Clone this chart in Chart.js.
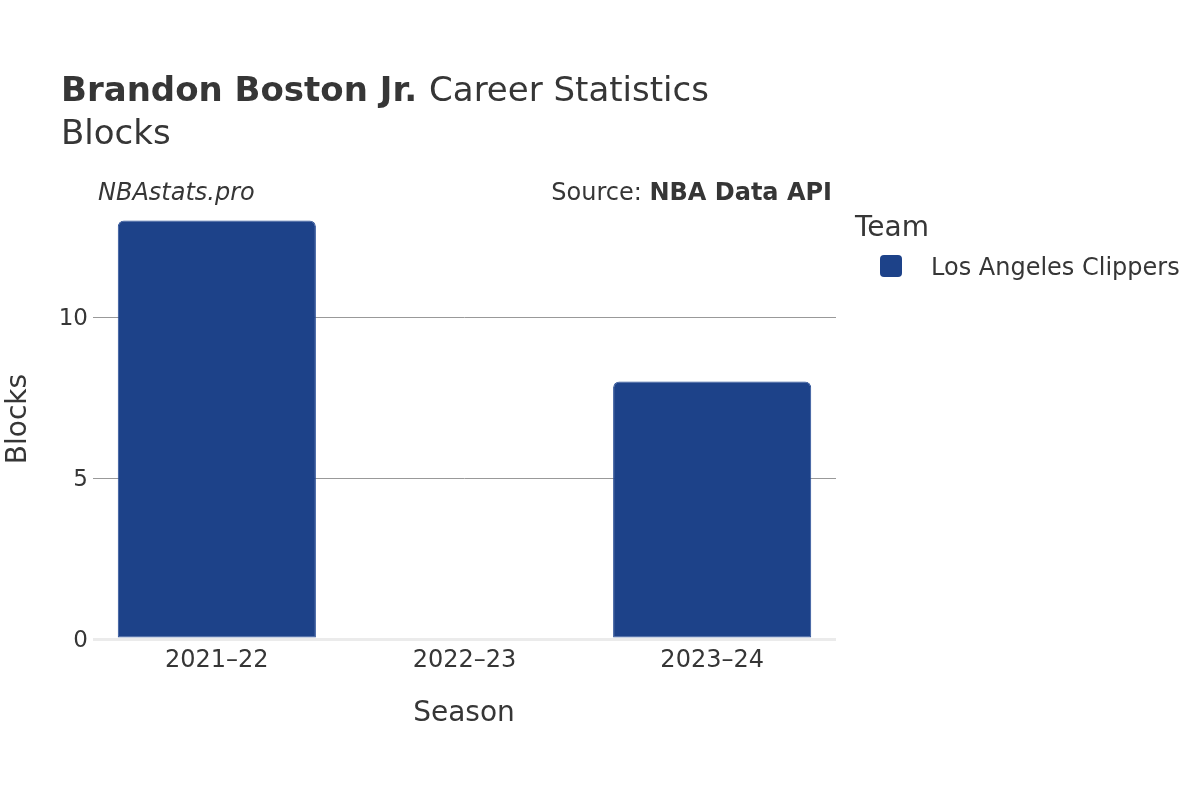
<!DOCTYPE html>
<html>
<head>
<meta charset="utf-8">
<script src="https://cdn.jsdelivr.net/npm/chart.js@4.4.0/dist/chart.umd.min.js"></script>
<style>
html,body{margin:0;padding:0;background:#fff;}
#wrap{width:1200px;height:800px;position:relative;}
</style>
</head>
<body>
<div id="wrap"><canvas id="c" width="1200" height="800"></canvas></div>
<script>
const seasons = ['2021\u201322', '2022\u201323', '2023\u201324'];
const blocks = [13, 0, 8];
const teamNames = ['Los Angeles Clippers'];
const teamColors = ['#1d4289'];
const yTicks = [0, 5, 10];

const FONT = "'DejaVu Sans', sans-serif";
const TXT = '#363636';

const textPlugin = {
  id: 'texts',
  afterDraw(chart) {
    const ctx = chart.ctx;
    ctx.save();
    ctx.fillStyle = TXT;
    ctx.textBaseline = 'alphabetic';
    ctx.textAlign = 'left';
    // Title
    ctx.font = 'bold 34px ' + FONT;
    const t1 = 'Brandon Boston Jr.';
    ctx.fillText(t1, 61, 101);
    const w1 = ctx.measureText(t1 + ' ').width;
    ctx.font = '34px ' + FONT;
    ctx.fillText('Career Statistics', 61 + w1, 101);
    ctx.fillText('Blocks', 61, 144);
    // Subtitles
    ctx.textBaseline = 'middle';
    ctx.font = 'italic 24px ' + FONT;
    ctx.fillText('NBAstats.pro', 98, 194);
    ctx.textAlign = 'right';
    ctx.font = 'bold 24px ' + FONT;
    const src = 'NBA Data API';
    ctx.fillText(src, 832, 194);
    const ws = ctx.measureText(src).width;
    ctx.font = '24px ' + FONT;
    ctx.fillText('Source: ', 832 - ws, 194);
    // Legend
    ctx.textAlign = 'left';
    ctx.font = '28px ' + FONT;
    ctx.fillText('Team', 855, 229);
    teamNames.forEach((n, i) => {
      const y = 266 + i * 34;
      ctx.fillStyle = teamColors[i];
      ctx.beginPath();
      ctx.roundRect(880, y - 11, 22, 22, 4);
      ctx.fill();
      ctx.fillStyle = TXT;
      ctx.font = '24px ' + FONT;
      ctx.fillText(n, 931, y + 3);
    });
    // Axis titles
    ctx.textAlign = 'center';
    ctx.font = '28px ' + FONT;
    ctx.fillText('Season', 464, 714);
    ctx.translate(19, 419);
    ctx.rotate(-Math.PI / 2);
    ctx.fillText('Blocks', 0, 0);
    ctx.restore();
  }
};

new Chart(document.getElementById('c'), {
  type: 'bar',
  data: {
    labels: seasons,
    datasets: [{
      label: teamNames[0],
      data: blocks,
      backgroundColor: teamColors[0],
      borderColor: '#2a4f97',
      borderWidth: 1,
      borderRadius: {topLeft: 6, topRight: 6, bottomLeft: 0, bottomRight: 0},
      borderSkipped: false,
      barPercentage: 0.8,
      categoryPercentage: 1.0
    }]
  },
  options: {
    responsive: false,
    animation: false,
    devicePixelRatio: 1,
    layout: {padding: {left: 0, right: 364, top: 206, bottom: 0}},
    plugins: {legend: {display: false}, tooltip: {enabled: false}, title: {display: false}},
    scales: {
      x: {
        grid: {display: false, drawTicks: false},
        border: {display: false},
        ticks: {color: TXT, font: {family: FONT, size: 24}, padding: 7},
        afterFit(s) { s.height = 161; }
      },
      y: {
        min: 0,
        max: 13.45,
        afterBuildTicks(s) { s.ticks = yTicks.map(v => ({value: v})); },
        grid: {
          drawTicks: false,
          color: c => (c.tick && c.tick.value === 0) ? '#ebebeb' : '#999999',
          lineWidth: c => (c.tick && c.tick.value === 0) ? 3 : 1
        },
        border: {display: false},
        ticks: {color: TXT, font: {family: FONT, size: 23}, padding: 5, labelOffset: 2},
        afterFit(s) { s.width = 93; }
      }
    }
  },
  plugins: [textPlugin]
});
</script>
</body>
</html>
